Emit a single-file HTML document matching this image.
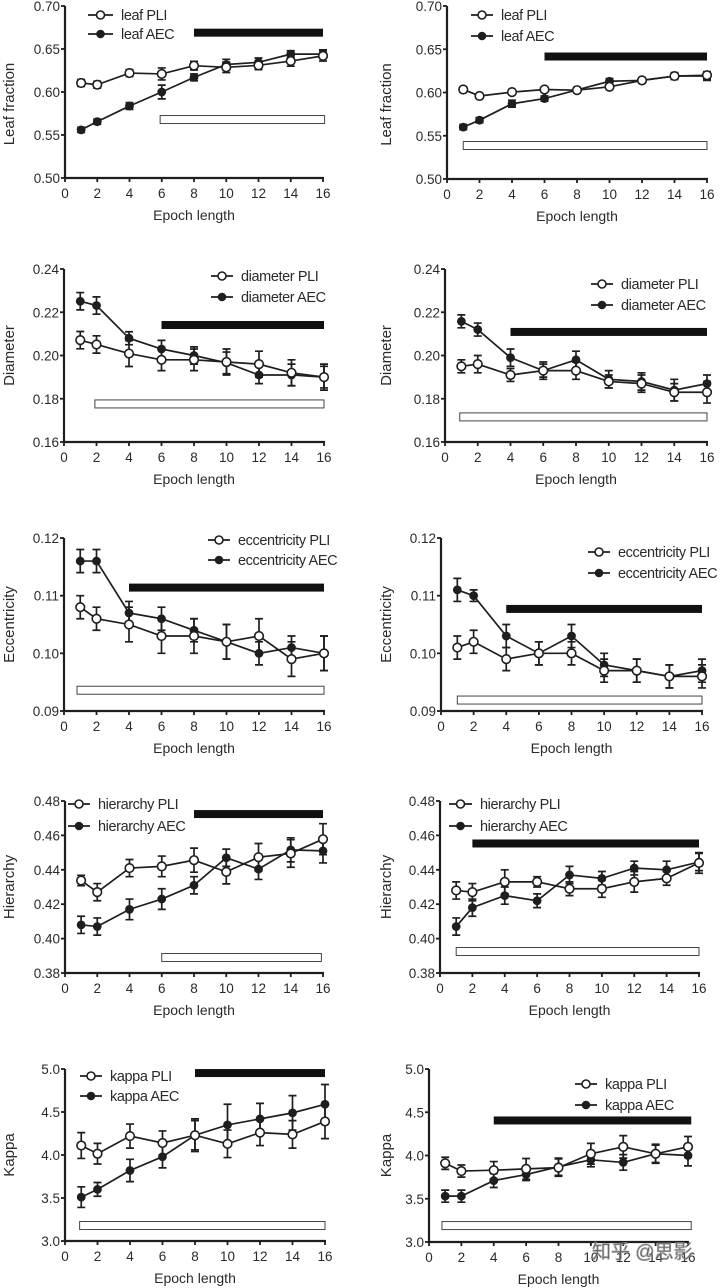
<!DOCTYPE html>
<html><head><meta charset="utf-8">
<style>
html,body{margin:0;padding:0;background:#fff;}
svg{display:block;}
text{font-family:"Liberation Sans",Arial,sans-serif;fill:#2a2a2a;}
</style></head>
<body>
<svg id="fig" width="720" height="1288" viewBox="0 0 720 1288" xmlns="http://www.w3.org/2000/svg"></svg>
<script>
const epochs = [1, 2, 4, 6, 8, 10, 12, 14, 16];
const xTicks = [0, 2, 4, 6, 8, 10, 12, 14, 16];

const leafLeftPLI = [0.6105, 0.6085, 0.622, 0.621, 0.6306, 0.6287, 0.631, 0.636, 0.642];
const leafLeftPLIErr = [0.004, 0.004, 0.004, 0.007, 0.005, 0.006, 0.005, 0.006, 0.006];
const leafLeftAEC = [0.556, 0.5655, 0.5837, 0.600, 0.617, 0.632, 0.6345, 0.644, 0.644];
const leafLeftAECErr = [0.003, 0.003, 0.004, 0.008, 0.004, 0.006, 0.005, 0.004, 0.005];
const leafRightPLI = [0.6035, 0.596, 0.6004, 0.6035, 0.6027, 0.6066, 0.614, 0.619, 0.620];
const leafRightPLIErr = [0.003, 0.002, 0.002, 0.003, 0.003, 0.003, 0.003, 0.003, 0.004];
const leafRightAEC = [0.560, 0.568, 0.587, 0.593, 0.603, 0.613, 0.614, 0.619, 0.619];
const leafRightAECErr = [0.003, 0.003, 0.004, 0.003, 0.003, 0.003, 0.003, 0.004, 0.005];
const leafTicks = [0.50, 0.55, 0.60, 0.65, 0.70];
const leafTickLabels = ["0.50", "0.55", "0.60", "0.65", "0.70"];

const diamLeftPLI = [0.2071, 0.2051, 0.2009, 0.198, 0.198, 0.197, 0.196, 0.192, 0.190];
const diamLeftPLIErr = [0.004, 0.004, 0.006, 0.005, 0.005, 0.006, 0.006, 0.006, 0.006];
const diamLeftAEC = [0.2251, 0.2231, 0.208, 0.203, 0.200, 0.1966, 0.191, 0.191, 0.190];
const diamLeftAECErr = [0.004, 0.004, 0.003, 0.004, 0.004, 0.005, 0.004, 0.005, 0.005];
const diamRightPLI = [0.195, 0.196, 0.191, 0.193, 0.193, 0.188, 0.187, 0.183, 0.183];
const diamRightPLIErr = [0.003, 0.004, 0.003, 0.003, 0.004, 0.003, 0.004, 0.004, 0.005];
const diamRightAEC = [0.2158, 0.212, 0.199, 0.193, 0.198, 0.189, 0.188, 0.184, 0.187];
const diamRightAECErr = [0.003, 0.003, 0.004, 0.004, 0.004, 0.004, 0.004, 0.005, 0.004];
const diamTicks = [0.16, 0.18, 0.20, 0.22, 0.24];
const diamTickLabels = ["0.16", "0.18", "0.20", "0.22", "0.24"];

const eccLeftPLI = [0.108, 0.106, 0.105, 0.103, 0.103, 0.102, 0.103, 0.099, 0.100];
const eccLeftPLIErr = [0.002, 0.002, 0.003, 0.003, 0.003, 0.003, 0.003, 0.003, 0.003];
const eccLeftAEC = [0.116, 0.116, 0.107, 0.106, 0.104, 0.102, 0.100, 0.101, 0.100];
const eccLeftAECErr = [0.002, 0.002, 0.002, 0.002, 0.002, 0.003, 0.002, 0.002, 0.003];
const eccRightPLI = [0.101, 0.102, 0.099, 0.100, 0.100, 0.097, 0.097, 0.096, 0.096];
const eccRightPLIErr = [0.002, 0.002, 0.002, 0.002, 0.002, 0.002, 0.002, 0.002, 0.002];
const eccRightAEC = [0.111, 0.110, 0.103, 0.100, 0.103, 0.098, 0.097, 0.096, 0.097];
const eccRightAECErr = [0.002, 0.001, 0.002, 0.002, 0.002, 0.002, 0.002, 0.002, 0.002];
const eccTicks = [0.09, 0.10, 0.11, 0.12];
const eccTickLabels = ["0.09", "0.10", "0.11", "0.12"];

const hierLeftPLI = [0.4338, 0.427, 0.441, 0.442, 0.4456, 0.4388, 0.4473, 0.4495, 0.4578];
const hierLeftPLIErr = [0.003, 0.005, 0.005, 0.006, 0.007, 0.007, 0.008, 0.008, 0.009];
const hierLeftAEC = [0.408, 0.407, 0.417, 0.423, 0.431, 0.447, 0.4404, 0.4516, 0.451];
const hierLeftAECErr = [0.005, 0.005, 0.006, 0.006, 0.005, 0.005, 0.006, 0.007, 0.007];
const hierRightPLI = [0.428, 0.427, 0.433, 0.433, 0.429, 0.429, 0.433, 0.435, 0.444];
const hierRightPLIErr = [0.005, 0.005, 0.007, 0.003, 0.004, 0.005, 0.006, 0.004, 0.006];
const hierRightAEC = [0.407, 0.418, 0.425, 0.422, 0.437, 0.435, 0.441, 0.440, 0.4445];
const hierRightAECErr = [0.005, 0.005, 0.005, 0.004, 0.005, 0.004, 0.004, 0.005, 0.005];
const hierTicks = [0.38, 0.40, 0.42, 0.44, 0.46, 0.48];
const hierTickLabels = ["0.38", "0.40", "0.42", "0.44", "0.46", "0.48"];

const kapLeftPLI = [4.11, 4.015, 4.22, 4.14, 4.23, 4.13, 4.26, 4.24, 4.39];
const kapLeftPLIErr = [0.15, 0.12, 0.14, 0.14, 0.19, 0.16, 0.15, 0.16, 0.20];
const kapLeftAEC = [3.51, 3.60, 3.82, 3.98, 4.23, 4.35, 4.42, 4.49, 4.59];
const kapLeftAECErr = [0.12, 0.08, 0.13, 0.13, 0.17, 0.24, 0.18, 0.20, 0.23];
const kapRightPLI = [3.91, 3.82, 3.83, 3.845, 3.86, 4.02, 4.10, 4.02, 4.10];
const kapRightPLIErr = [0.07, 0.07, 0.10, 0.12, 0.10, 0.12, 0.13, 0.11, 0.12];
const kapRightAEC = [3.53, 3.53, 3.71, 3.78, 3.87, 3.95, 3.92, 4.02, 4.00];
const kapRightAECErr = [0.07, 0.07, 0.08, 0.07, 0.10, 0.08, 0.09, 0.10, 0.12];
const kapTicks = [3.0, 3.5, 4.0, 4.5, 5.0];
const kapTickLabels = ["3.0", "3.5", "4.0", "4.5", "5.0"];

// significance bars: [xStart, xEnd, yCenter]
const leafLeftBlackBar = [8, 16, 0.669];
const leafLeftWhiteBar = [5.9, 16.1, 0.568];
const leafRightBlackBar = [6, 16, 0.6416];
const leafRightWhiteBar = [1, 16, 0.5387];
const diamLeftBlackBar = [6, 16, 0.2141];
const diamLeftWhiteBar = [1.9, 16, 0.1776];
const diamRightBlackBar = [4, 16, 0.2109];
const diamRightWhiteBar = [0.9, 16, 0.1716];
const eccLeftBlackBar = [4, 16, 0.1114];
const eccLeftWhiteBar = [0.8, 16, 0.0936];
const eccRightBlackBar = [4, 16, 0.1077];
const eccRightWhiteBar = [1, 16, 0.0919];
const hierLeftBlackBar = [8, 16, 0.4724];
const hierLeftWhiteBar = [6, 15.9, 0.389];
const hierRightBlackBar = [2, 16, 0.4553];
const hierRightWhiteBar = [1, 16, 0.3925];
const kapLeftBlackBar = [8, 16, 4.953];
const kapLeftWhiteBar = [0.9, 16, 3.18];
const kapRightBlackBar = [4, 16.2, 4.405];
const kapRightWhiteBar = [0.8, 16.2, 3.19];

const NS = "http://www.w3.org/2000/svg";
const svg = document.getElementById("fig");
function mk(tag, attrs, parent) {
  const e = document.createElementNS(NS, tag);
  for (const k in attrs) e.setAttribute(k, attrs[k]);
  (parent || svg).appendChild(e);
  return e;
}

const panels = [
  {id:"leaf-left", g:{x0:65,x1:323,yTop:6,yBot:178,vmin:0.50,vmax:0.70,titleX:9,leg:[88,113,15,34]}, title:"Leaf fraction", ticks:leafTicks, tl:leafTickLabels, pli:leafLeftPLI, pe:leafLeftPLIErr, aec:leafLeftAEC, ae:leafLeftAECErr, bb:leafLeftBlackBar, wb:leafLeftWhiteBar, names:["leaf PLI","leaf AEC"]},
  {id:"leaf-right", g:{x0:447,x1:707,yTop:6,yBot:179,vmin:0.50,vmax:0.70,titleX:386,leg:[471,493,15,36]}, title:"Leaf fraction", ticks:leafTicks, tl:leafTickLabels, pli:leafRightPLI, pe:leafRightPLIErr, aec:leafRightAEC, ae:leafRightAECErr, bb:leafRightBlackBar, wb:leafRightWhiteBar, names:["leaf PLI","leaf AEC"]},
  {id:"diameter-left", g:{x0:64,x1:324,yTop:269,yBot:442,vmin:0.16,vmax:0.24,titleX:9,leg:[211,233,276,297]}, title:"Diameter", ticks:diamTicks, tl:diamTickLabels, pli:diamLeftPLI, pe:diamLeftPLIErr, aec:diamLeftAEC, ae:diamLeftAECErr, bb:diamLeftBlackBar, wb:diamLeftWhiteBar, names:["diameter PLI","diameter AEC"]},
  {id:"diameter-right", g:{x0:445,x1:707,yTop:269,yBot:442,vmin:0.16,vmax:0.24,titleX:386,leg:[591,613,284,305]}, title:"Diameter", ticks:diamTicks, tl:diamTickLabels, pli:diamRightPLI, pe:diamRightPLIErr, aec:diamRightAEC, ae:diamRightAECErr, bb:diamRightBlackBar, wb:diamRightWhiteBar, names:["diameter PLI","diameter AEC"]},
  {id:"eccentricity-left", g:{x0:64,x1:324,yTop:538,yBot:711,vmin:0.09,vmax:0.12,titleX:9,leg:[208,230,540,560]}, title:"Eccentricity", ticks:eccTicks, tl:eccTickLabels, pli:eccLeftPLI, pe:eccLeftPLIErr, aec:eccLeftAEC, ae:eccLeftAECErr, bb:eccLeftBlackBar, wb:eccLeftWhiteBar, names:["eccentricity PLI","eccentricity AEC"]},
  {id:"eccentricity-right", g:{x0:441,x1:702,yTop:538,yBot:711,vmin:0.09,vmax:0.12,titleX:386,leg:[588,610,552,573]}, title:"Eccentricity", ticks:eccTicks, tl:eccTickLabels, pli:eccRightPLI, pe:eccRightPLIErr, aec:eccRightAEC, ae:eccRightAECErr, bb:eccRightBlackBar, wb:eccRightWhiteBar, names:["eccentricity PLI","eccentricity AEC"]},
  {id:"hierarchy-left", g:{x0:65,x1:323,yTop:801,yBot:973,vmin:0.38,vmax:0.48,titleX:9,leg:[68,90,804,826]}, title:"Hierarchy", ticks:hierTicks, tl:hierTickLabels, pli:hierLeftPLI, pe:hierLeftPLIErr, aec:hierLeftAEC, ae:hierLeftAECErr, bb:hierLeftBlackBar, wb:hierLeftWhiteBar, names:["hierarchy PLI","hierarchy AEC"]},
  {id:"hierarchy-right", g:{x0:440,x1:699,yTop:801,yBot:973,vmin:0.38,vmax:0.48,titleX:386,leg:[449,472,804,826]}, title:"Hierarchy", ticks:hierTicks, tl:hierTickLabels, pli:hierRightPLI, pe:hierRightPLIErr, aec:hierRightAEC, ae:hierRightAECErr, bb:hierRightBlackBar, wb:hierRightWhiteBar, names:["hierarchy PLI","hierarchy AEC"]},
  {id:"kappa-left", g:{x0:65,x1:325,yTop:1069,yBot:1241,vmin:3.0,vmax:5.0,titleX:9,leg:[80,102,1076,1096]}, title:"Kappa", ticks:kapTicks, tl:kapTickLabels, pli:kapLeftPLI, pe:kapLeftPLIErr, aec:kapLeftAEC, ae:kapLeftAECErr, bb:kapLeftBlackBar, wb:kapLeftWhiteBar, names:["kappa PLI","kappa AEC"]},
  {id:"kappa-right", g:{x0:429,x1:688,yTop:1069,yBot:1242,vmin:3.0,vmax:5.0,titleX:386,leg:[575,597,1084,1105]}, title:"Kappa", ticks:kapTicks, tl:kapTickLabels, pli:kapRightPLI, pe:kapRightPLIErr, aec:kapRightAEC, ae:kapRightAECErr, bb:kapRightBlackBar, wb:kapRightWhiteBar, names:["kappa PLI","kappa AEC"]}
];

const INK = "#1e1e1e";
panels.forEach(p => {
  const g = p.g;
  const grp = mk("g", {});
  
  
  const xs = v => g.x0 + (v / 16) * (g.x1 - g.x0);
  const ys = v => g.yBot - (v - g.vmin) / (g.vmax - g.vmin) * (g.yBot - g.yTop);

  const barH = 8;
  const bb = mk("rect", {x: xs(p.bb[0]), y: ys(p.bb[2]) - barH/2, width: xs(p.bb[1]) - xs(p.bb[0]), height: barH, fill: "#111"}, grp);
  
  
  const wb = mk("rect", {x: xs(p.wb[0]), y: ys(p.wb[2]) - barH/2, width: xs(p.wb[1]) - xs(p.wb[0]), height: barH, fill: "#fff", stroke: "#444", "stroke-width": 1}, grp);
  
  

  const ya = mk("line", {x1: g.x0, y1: g.yTop, x2: g.x0, y2: g.yBot, stroke: INK, "stroke-width": 2.2}, grp);
  
  
  const xa = mk("line", {x1: g.x0 - 1, y1: g.yBot, x2: g.x1 + 1, y2: g.yBot, stroke: INK, "stroke-width": 2.2}, grp);
  
  

  p.ticks.forEach((t, i) => {
    const y = ys(t);
    mk("line", {x1: g.x0 - 4, y1: y, x2: g.x0, y2: y, stroke: INK, "stroke-width": 1.8}, grp);
    const tx = mk("text", {x: g.x0 - 5, y: y + 5, "font-size": 13.5, "text-anchor": "end"}, grp);
    tx.textContent = p.tl[i];
    
    
  });
  xTicks.forEach(t => {
    const x = xs(t);
    mk("line", {x1: x, y1: g.yBot, x2: x, y2: g.yBot + 4, stroke: INK, "stroke-width": 1.8}, grp);
    const tx = mk("text", {x: x, y: g.yBot + 20, "font-size": 13.5, "text-anchor": "middle"}, grp);
    tx.textContent = String(t);
    
    
  });

  const xt = mk("text", {x: (g.x0 + g.x1) / 2, y: g.yBot + 42, "font-size": 14, "text-anchor": "middle"}, grp);
  xt.textContent = "Epoch length";
  
  
  const ymid = (g.yTop + g.yBot) / 2 + (p.title === "Leaf fraction" ? 12 : 0);
  const yt = mk("text", {x: 0, y: 0, "font-size": 15, "text-anchor": "middle", transform: `translate(${g.titleX + 5},${ymid}) rotate(-90)`}, grp);
  yt.textContent = p.title;
  
  

  function series(vals, errs, open, name) {
    const sg = mk("g", {}, grp);
    
    
    let d = "";
    vals.forEach((v, i) => { d += (i ? "L" : "M") + xs(epochs[i]) + " " + ys(v); });
    mk("path", {d: d, fill: "none", stroke: INK, "stroke-width": 1.7}, sg);
    vals.forEach((v, i) => {
      const x = xs(epochs[i]);
      const yh = ys(v + errs[i]), yl = ys(v - errs[i]);
      mk("path", {d: `M${x} ${yh}L${x} ${yl}M${x-4} ${yh}L${x+4} ${yh}M${x-4} ${yl}L${x+4} ${yl}`, stroke: INK, "stroke-width": 1.7, fill: "none"}, sg);
    });
    vals.forEach((v, i) => {
      const c = mk("circle", {cx: xs(epochs[i]), cy: ys(v), r: open ? 4.3 : 3.6, fill: open ? "#fff" : INK, stroke: INK, "stroke-width": 1.6}, sg);
      
      
    });
  }
  series(p.aec, p.ae, false, p.id + '-aec-series');
  series(p.pli, p.pe, true, p.id + '-pli-series');

  const L = g.leg;
  [0, 1].forEach(k => {
    const lg = mk("g", {}, grp);
    
    
    const y = L[2 + k];
    mk("line", {x1: L[0], y1: y, x2: L[1], y2: y, stroke: INK, "stroke-width": 1.7}, lg);
    mk("circle", {cx: (L[0] + L[1]) / 2, cy: y, r: k === 0 ? 4 : 3.5, fill: k === 0 ? "#fff" : INK, stroke: INK, "stroke-width": 1.6}, lg);
    const tx = mk("text", {x: L[1] + 8, y: y + 5, "font-size": 14.5, "letter-spacing": "-0.4"}, lg);
    tx.textContent = p.names[k];
  });
});

const wm = mk("text", {x: 592, y: 1258, "font-size": 19, fill: "#fff", stroke: "#999", "stroke-width": 0.8, "font-family": "\"Liberation Sans\", \"Noto Sans CJK SC\", sans-serif", opacity: 0.85});
wm.textContent = "知乎 @思影";


</script>
</body></html>
